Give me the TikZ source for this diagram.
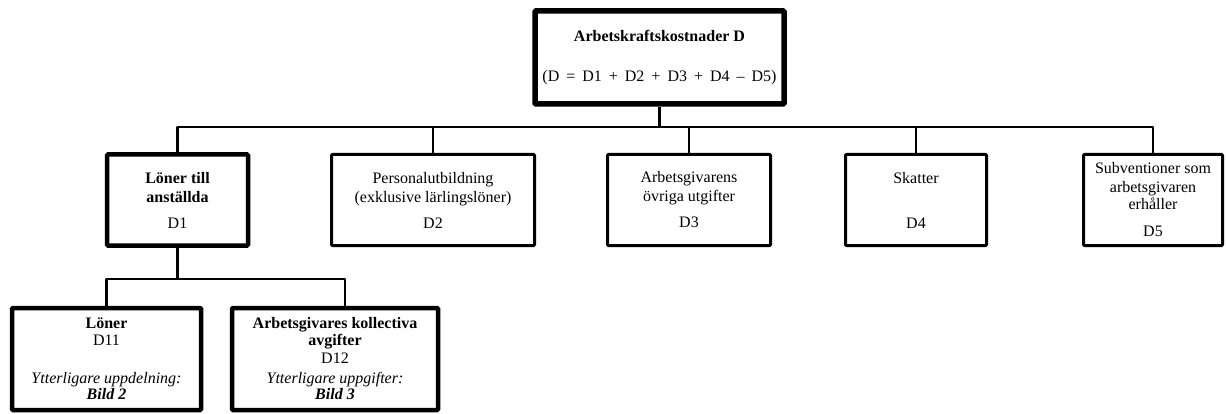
\documentclass[tikz,border=0pt]{standalone}
\usepackage{fontspec}
\setmainfont{Liberation Serif}
\usepackage{tikz}
\tikzset{
  box/.style={draw, line width=3pt, rounded corners=1pt, align=center, inner sep=2pt,
    font=\fontsize{16}{19}\selectfont},
  boldbox/.style={box, line width=4.5pt},
  topbox/.style={box, line width=5.5pt},
  conn/.style={line width=2.5pt, line join=round},
}

\begin{document}
\begin{tikzpicture}[x=1pt,y=-1pt]
    \useasboundingbox (0,0) rectangle (1226,414);

    %top box
    \node [topbox, minimum width=249pt, minimum height=93pt] (total) at (659.5,57.5)
      {\textbf{Arbetskraftskostnader D}\\[21pt]{\spaceskip=7pt (D = D1 + D2 + D3 + D4 – D5)}};

    %second row
    \node [boldbox, minimum width=141pt, minimum height=91pt] (d1) at (177.5,200)
      {\textbf{Löner till}\\\textbf{anställda}\\[7pt]D1};
    \node [box, minimum width=203pt, minimum height=91pt] (d2) at (433,200)
      {Personalutbildning\\(exklusive lärlingslöner)\\[7pt]D2};
    \node [box, minimum width=163pt, minimum height=91pt] (d3) at (689,200)
      {Arbetsgivarens\\övriga utgifter\\[7pt]D3};
    \node [box, minimum width=141pt, minimum height=91pt] (d4) at (916,200)
      {Skatter\\[26pt]D4};
    \node [box, minimum width=139pt, minimum height=91pt] (d5) at (1153,200)
      {Subventioner som\\arbetsgivaren\\[-2pt]erhåller\\[8pt]D5};

    %third row
    \node [boldbox, minimum width=189pt, minimum height=102pt] (d11) at (106.5,359)
      {\textbf{Löner}\\[-2pt]D11\\[19pt]\textit{Ytterligare uppdelning:}\\[-3pt]\textbf{\textit{Bild 2}}};
    \node [boldbox, minimum width=206pt, minimum height=102pt] (d12) at (335,359)
      {\textbf{Arbetsgivares kollectiva}\\[-2pt]\textbf{avgifter}\\[-1pt]D12\\[1pt]\textit{Ytterligare uppgifter:}\\[-3pt]\textbf{\textit{Bild 3}}};

    %connectors
    \coordinate (bus) at (0,127);
    \coordinate (subbus) at (0,279);
    \draw [conn] (total.south) -- (total.south |- bus);
    \draw [conn] (d1.north) |- (d5.north |- bus) -- (d5.north);
    \foreach \n in {d2,d3,d4}{\draw [conn] (\n.north) -- (\n.north |- bus);}
    \draw [conn] (d1.south) -- (d1.south |- subbus);
    \draw [conn] (d11.north) |- ([xshift=10pt]d12.north |- subbus) -- ([xshift=10pt]d12.north);

\end{tikzpicture}
\end{document}
